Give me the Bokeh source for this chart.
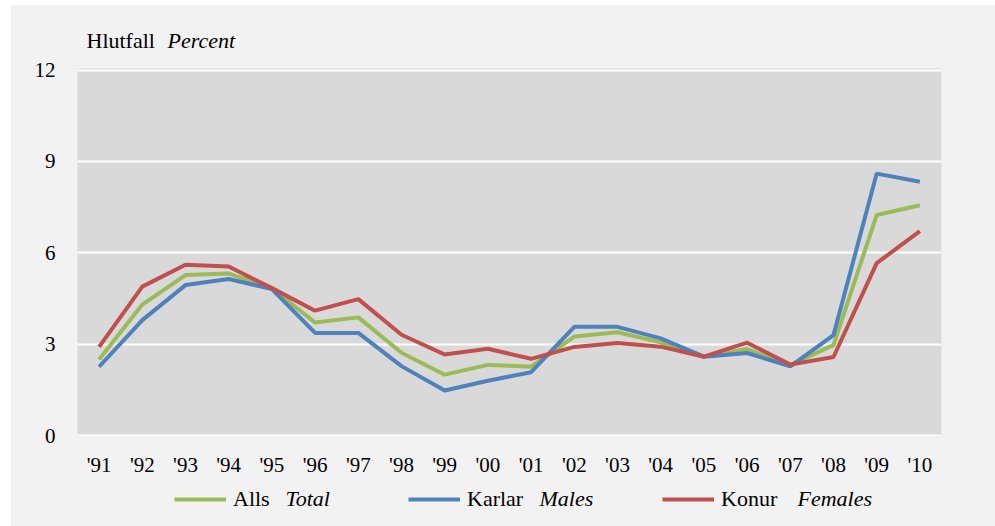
from bokeh.plotting import figure
from bokeh.layouts import column
from bokeh.models import Range1d, FactorRange, FixedTicker, Label, Legend, LegendItem
from bokeh.embed import file_html
from bokeh.resources import INLINE

years = ["'91", "'92", "'93", "'94", "'95", "'96", "'97", "'98", "'99", "'00",
         "'01", "'02", "'03", "'04", "'05", "'06", "'07", "'08", "'09", "'10"]
total = [2.5, 4.3, 5.27, 5.32, 4.84, 3.71, 3.88, 2.72, 2.0, 2.32,
         2.26, 3.25, 3.39, 3.06, 2.6, 2.84, 2.32, 2.97, 7.24, 7.56]
males = [2.26, 3.79, 4.94, 5.14, 4.81, 3.37, 3.37, 2.28, 1.48, 1.8,
         2.08, 3.57, 3.57, 3.19, 2.59, 2.71, 2.27, 3.3, 8.6, 8.33]
females = [2.91, 4.89, 5.61, 5.55, 4.84, 4.1, 4.48, 3.31, 2.66, 2.85,
           2.52, 2.91, 3.04, 2.92, 2.59, 3.05, 2.33, 2.58, 5.66, 6.71]
y_ticks = [0, 3, 6, 9, 12]
series_names = [("Alls", "Total"), ("Karlar", "Males"), ("Konur", "Females")]
title_parts = ("Hlutfall", "Percent")

FONT = "Liberation Serif"
BG = "#f2f2f2"
GREEN, BLUE, RED = "#9bbb59", "#4f81bd", "#c0504d"
W = 984
BL, BR = 66, 54  # shared left/right borders so all frames line up


def blank(height):
    f = figure(width=W, height=height, x_range=Range1d(0, 1), y_range=Range1d(0, 1),
               x_axis_location=None, y_axis_location=None, output_backend="svg",
               toolbar_location=None, min_border_left=BL, min_border_right=BR,
               min_border_top=0, min_border_bottom=0)
    f.border_fill_color = BG
    f.background_fill_color = BG
    f.outline_line_color = None
    f.grid.grid_line_color = None
    return f


# header
head = blank(51)
head.add_layout(Label(x=9, y=16, x_units="screen", y_units="screen", text=title_parts[0],
                      text_font=FONT, text_font_size="22px", text_baseline="middle",
                      text_color="black"))
head.add_layout(Label(x=90, y=16, x_units="screen", y_units="screen", text=title_parts[1],
                      text_font=FONT, text_font_style="italic", text_font_size="22px",
                      text_baseline="middle", text_color="black"))

# main chart
p = figure(width=W, height=424, x_range=FactorRange(*years, range_padding=0),
           y_range=Range1d(-0.03, 12.05), output_backend="svg", toolbar_location=None,
           min_border_left=BL, min_border_right=BR, min_border_top=12, min_border_bottom=44)
p.border_fill_color = BG
p.background_fill_color = "#d9d9d9"
p.outline_line_color = None
p.xgrid.grid_line_color = None
p.ygrid.grid_line_color = "white"
p.ygrid.grid_line_width = 2
p.yaxis.ticker = FixedTicker(ticks=y_ticks)
for ax in (p.xaxis[0], p.yaxis[0]):
    ax.axis_line_color = None
    ax.major_tick_line_color = None
    ax.minor_tick_line_color = None
    ax.major_tick_out = 0
    ax.major_tick_in = 0
    ax.minor_tick_out = 0
    ax.major_label_text_font = FONT
    ax.major_label_text_font_size = "21px"
    ax.major_label_text_color = "black"
p.yaxis.major_label_standoff = 22
p.xaxis.major_label_standoff = 16

colors = [GREEN, BLUE, RED]
for vals, c in zip([total, males, females], colors):
    p.line(years, vals, line_color=c, line_width=4)

# legend strip
leg = blank(46)
positions = [(97, 208), (331, 462), (585, 720)]
for (lab, it), c, (lx, ix) in zip(series_names, colors, positions):
    r = leg.line(x=[float("nan")], y=[float("nan")], line_color=c, line_width=4)
    lg = Legend(items=[LegendItem(label=lab, renderers=[r])], location=(lx, 14),
                orientation="horizontal", glyph_width=52, glyph_height=24,
                label_height=24, label_standoff=7, padding=0, margin=0, spacing=0,
                border_line_alpha=0, background_fill_alpha=0,
                label_text_font=FONT, label_text_font_size="22px",
                label_text_color="black")
    leg.add_layout(lg, "center")
    leg.add_layout(Label(x=ix, y=28, x_units="screen", y_units="screen", text=it,
                         text_font=FONT, text_font_style="italic", text_font_size="22px",
                         text_baseline="middle", text_color="black"))

layout = column(head, p, leg, spacing=0, margin=(5, 0, 0, 11),
                styles={"background-color": BG})
open("out.html", "w").write(file_html(layout, INLINE))
